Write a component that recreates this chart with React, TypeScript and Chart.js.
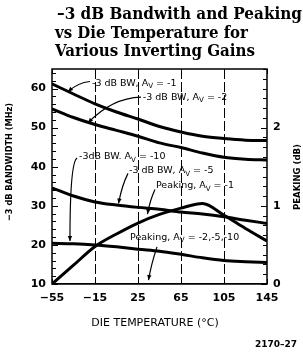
import React, { useEffect, useRef } from "react";
import { Chart, registerables } from "chart.js";

Chart.register(...registerables);

// ---- data ----
const temperatures = [-55, -35, -15, 5, 25, 45, 65, 85, 105, 125, 145];
const bwGainMinus1 = [61.2, 58.6, 56.1, 54.0, 52.2, 50.3, 48.9, 47.8, 47.2, 46.8, 46.7];
const bwGainMinus2 = [54.8, 52.6, 50.8, 49.3, 47.8, 46.1, 44.9, 43.5, 42.4, 41.9, 41.7];
const bwGainMinus5 = [34.6, 32.5, 31.0, 30.2, 29.6, 29.1, 28.4, 27.9, 27.2, 26.3, 25.5];
const bwGainMinus10 = [20.4, 20.3, 20.0, 19.5, 18.9, 18.4, 17.6, 16.7, 16.0, 15.7, 15.5];
const peakingGainMinus1 = [0, 0.24, 0.48, 0.64, 0.78, 0.89, 0.97, 1.03, 0.88, 0.71, 0.55];
const peakingGainMinus2_5_10 = [0, 0, 0, 0, 0, 0, 0, 0, 0, 0, 0];

const tempTicks = [-55, -15, 25, 65, 105, 145];
const tempTickLabels = ["\u221255", "\u221215", "25", "65", "105", "145"];
const bwTicks = [10, 20, 30, 40, 50, 60];
const peakingTicks = [0, 1, 2];
const tempRange = [-55, 145];
const bwRange = [10, 65];
const peakingRange = [0, 2.75];

const titleLines = ["\u20133 dB Bandwith and Peaking", "vs Die Temperature for", "Various Inverting Gains"];
const xTitle = "DIE TEMPERATURE (\u00b0C)";
const yTitle = "\u22123 dB BANDWIDTH (MHz)";
const y2Title = "PEAKING (dB)";
const figureCode = "2170\u201327";

// callout labels: text parts (sub = subscript), text anchor and leader path in data units (temp, MHz)
type Part = { t: string; sub?: boolean };
const callouts: { parts: Part[]; at: number[]; path: number[][] }[] = [
  {
    parts: [{ t: "-3 dB BW, A" }, { t: "V", sub: true }, { t: " = -1" }],
    at: [-17.8, 61.4],
    path: [[-19.7, 61.8], [-31, 61.5], [-40.1, 59.2]],
  },
  {
    parts: [{ t: "-3 dB BW, A" }, { t: "V", sub: true }, { t: " = -2" }],
    at: [29.5, 57.8],
    path: [[27.8, 57.8], [0.8, 57.6], [-21.5, 51.2]],
  },
  {
    parts: [{ t: "-3dB BW. A" }, { t: "V", sub: true }, { t: " = -10" }],
    at: [-29.9, 42.5],
    path: [[-31.7, 42.2], [-38.3, 41.2], [-38.3, 21.0]],
  },
  {
    parts: [{ t: "-3 dB BW, A" }, { t: "V", sub: true }, { t: " = -5" }],
    at: [16.6, 38.9],
    path: [[15.7, 38.3], [10.1, 35.3], [6.9, 30.6]],
  },
  {
    parts: [{ t: "Peaking, A" }, { t: "V", sub: true }, { t: " = -1" }],
    at: [41.7, 35.1],
    path: [[40.8, 34.2], [36.2, 31.5], [33.8, 27.9]],
  },
  {
    parts: [{ t: "Peaking, A" }, { t: "V", sub: true }, { t: " = -2,-5,-10" }],
    at: [17.6, 21.9],
    path: [[42.7, 19.5], [37.1, 14.9], [34.8, 11.0]],
  },
];

function drawParts(ctx: CanvasRenderingContext2D, x: number, y: number, parts: Part[], size: number) {
  let cx = x;
  for (const p of parts) {
    const s = p.sub ? size * 0.75 : size;
    ctx.font = `${s}px "DejaVu Sans"`;
    ctx.fillText(p.t, cx, p.sub ? y + size * 0.3 : y);
    cx += ctx.measureText(p.t).width;
  }
}

const decorPlugin = {
  id: "decor",
  beforeDatasetsDraw(chart: any) {
    const { ctx, chartArea: a, scales } = chart;
    ctx.save();
    ctx.strokeStyle = "#000";
    ctx.lineWidth = 1;
    ctx.setLineDash([10, 3]);
    for (const t of tempTicks.slice(1, -1)) {
      const px = Math.round(scales.x.getPixelForValue(t)) + 0.5;
      ctx.beginPath();
      ctx.moveTo(px, a.top);
      ctx.lineTo(px, a.bottom);
      ctx.stroke();
    }
    ctx.restore();
  },
  afterDatasetsDraw(chart: any) {
    const { ctx, chartArea: a, scales } = chart;
    const sx = scales.x, sy = scales.y, sy2 = scales.y2;
    ctx.save();
    ctx.strokeStyle = "#000";
    ctx.fillStyle = "#000";
    ctx.setLineDash([]);
    // frame
    ctx.lineWidth = 1.5;
    ctx.strokeRect(a.left, a.top, a.right - a.left, a.bottom - a.top);
    // inward ticks
    ctx.lineWidth = 1;
    for (let v = bwRange[0]; v < bwRange[1]; v += 2) {
      const py = Math.round(sy.getPixelForValue(v)) + 0.5;
      const len = v % 10 === 0 ? 6 : 4;
      ctx.beginPath();
      ctx.moveTo(a.left, py);
      ctx.lineTo(a.left + len, py);
      ctx.stroke();
    }
    for (let k = 0; k * 0.125 <= peakingRange[1]; k++) {
      const v = k * 0.125;
      const py = Math.round(sy2.getPixelForValue(v)) + 0.5;
      const len = k % 8 === 0 ? 6 : 4;
      ctx.beginPath();
      ctx.moveTo(a.right - len, py);
      ctx.lineTo(a.right, py);
      ctx.stroke();
    }
    for (const t of tempTicks) {
      const px = Math.round(sx.getPixelForValue(t)) + 0.5;
      ctx.beginPath();
      ctx.moveTo(px, a.top);
      ctx.lineTo(px, a.top + 5);
      ctx.moveTo(px, a.bottom);
      ctx.lineTo(px, a.bottom - 5);
      ctx.stroke();
    }
    // callouts
    ctx.textBaseline = "middle";
    ctx.textAlign = "left";
    for (const c of callouts) {
      drawParts(ctx, sx.getPixelForValue(c.at[0]), sy.getPixelForValue(c.at[1]), c.parts, 9.5);
      const pts = c.path.map((p) => [sx.getPixelForValue(p[0]), sy.getPixelForValue(p[1])]);
      ctx.lineWidth = 1.2;
      ctx.beginPath();
      ctx.moveTo(pts[0][0], pts[0][1]);
      ctx.quadraticCurveTo(pts[1][0], pts[1][1], pts[2][0], pts[2][1]);
      ctx.stroke();
      const ang = Math.atan2(pts[2][1] - pts[1][1], pts[2][0] - pts[1][0]);
      const L = 5, W = 2.2;
      const [ex, ey] = pts[2];
      ctx.beginPath();
      ctx.moveTo(ex, ey);
      ctx.lineTo(ex - L * Math.cos(ang) + W * Math.sin(ang), ey - L * Math.sin(ang) - W * Math.cos(ang));
      ctx.lineTo(ex - L * Math.cos(ang) - W * Math.sin(ang), ey - L * Math.sin(ang) + W * Math.cos(ang));
      ctx.closePath();
      ctx.fill();
    }
    // titles
    ctx.textAlign = "left";
    ctx.textBaseline = "alphabetic";
    ctx.font = 'bold 16px "DejaVu Serif"';
    ctx.fillText(titleLines[0], 57, 18.5, 245);
    ctx.fillText(titleLines[1], 55, 38, 193);
    ctx.fillText(titleLines[2], 55, 56, 200);
    // axis titles
    ctx.textAlign = "center";
    ctx.textBaseline = "middle";
    ctx.font = '11px "DejaVu Sans"';
    ctx.fillText(xTitle, 155, 323, 130);
    ctx.font = 'bold 9.5px "DejaVu Sans"';
    ctx.save();
    ctx.translate(9.5, 162);
    ctx.rotate(-Math.PI / 2);
    ctx.fillText(yTitle, 0, 0, 118);
    ctx.restore();
    ctx.save();
    ctx.translate(297.5, 177);
    ctx.rotate(-Math.PI / 2);
    ctx.fillText(y2Title, 0, 0, 66);
    ctx.restore();
    ctx.textAlign = "right";
    ctx.font = 'bold 9px "DejaVu Sans"';
    ctx.fillText(figureCode, 297, 345);
    ctx.restore();
  },
};

const tickFont = { family: "DejaVu Sans", size: 11, weight: "bold" as const };

export default function App() {
  const ref = useRef<HTMLCanvasElement>(null);
  useEffect(() => {
    if (!ref.current) return;
    const line = (data: number[], axis: string, width = 3) => ({
      data: temperatures.map((t, i) => ({ x: t, y: data[i] })),
      yAxisID: axis,
      borderColor: "#000",
      backgroundColor: "#000",
      borderWidth: width,
      pointRadius: 0,
      fill: false,
      tension: 0.4,
      cubicInterpolationMode: "monotone" as const,
    });
    const chart = new Chart(ref.current, {
      type: "line",
      data: {
        datasets: [
          { label: "-3 dB BW, Av = -1", ...line(bwGainMinus1, "y") },
          { label: "-3 dB BW, Av = -2", ...line(bwGainMinus2, "y") },
          { label: "-3 dB BW, Av = -5", ...line(bwGainMinus5, "y") },
          { label: "-3 dB BW, Av = -10", ...line(bwGainMinus10, "y") },
          { label: "Peaking, Av = -1", ...line(peakingGainMinus1, "y2") },
          { label: "Peaking, Av = -2,-5,-10", ...line(peakingGainMinus2_5_10, "y2", 2) },
        ],
      },
      options: {
        responsive: false,
        animation: false,
        devicePixelRatio: 1,
        layout: { padding: { top: 69, left: 0, right: 0, bottom: 0 } },
        plugins: { legend: { display: false }, tooltip: { enabled: false }, title: { display: false } },
        scales: {
          x: {
            type: "linear",
            position: "bottom",
            min: tempRange[0],
            max: tempRange[1],
            afterFit: (s: any) => { s.height = 71; },
            afterBuildTicks: (s: any) => { s.ticks = tempTicks.map((v) => ({ value: v })); },
            ticks: {
              autoSkip: false,
              maxRotation: 0,
              padding: 8,
              color: "#000",
              font: tickFont,
              callback: (v: any) => tempTickLabels[tempTicks.indexOf(Number(v))] ?? "",
            },
            grid: { display: false, drawTicks: false },
            border: { display: false },
          },
          y: {
            type: "linear",
            position: "left",
            min: bwRange[0],
            max: bwRange[1],
            afterFit: (s: any) => { s.width = 52; },
            afterBuildTicks: (s: any) => { s.ticks = bwTicks.map((v) => ({ value: v })); },
            ticks: { padding: 6, color: "#000", font: tickFont },
            grid: { display: false, drawTicks: false },
            border: { display: false },
          },
          y2: {
            type: "linear",
            position: "right",
            min: peakingRange[0],
            max: peakingRange[1],
            afterFit: (s: any) => { s.width = 36; },
            afterBuildTicks: (s: any) => { s.ticks = peakingTicks.map((v) => ({ value: v })); },
            ticks: { padding: 6, color: "#000", font: tickFont },
            grid: { display: false, drawTicks: false },
            border: { display: false },
          },
        },
      },
      plugins: [decorPlugin],
    });
    return () => chart.destroy();
  }, []);
  return (
    <div style={{ position: "absolute", left: 0, top: 0, width: 303, height: 355, background: "#fff" }}>
      <canvas ref={ref} width={303} height={355} style={{ display: "block" }} />
    </div>
  );
}
